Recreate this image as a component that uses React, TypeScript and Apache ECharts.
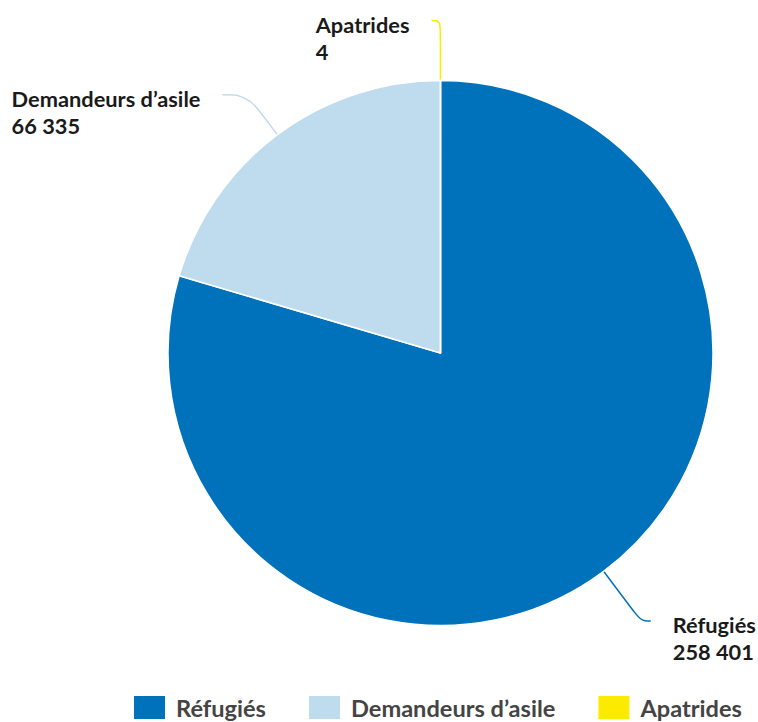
import React, { useEffect, useRef } from "react";
import * as echarts from "echarts";

const categories = ["Réfugiés", "Demandeurs d’asile", "Apatrides"];
const values = [258401, 66335, 4];
const colors = ["#0072BC", "#BFDBEE", "#FAEB00"];
const lineLengths = [62, 50, 60];
const lineLengths2 = [10, 25, 9];

const fmt = (v: number) => String(v).replace(/\B(?=(\d{3})+(?!\d))/g, " ");

export default function App() {
  const ref = useRef<HTMLDivElement>(null);
  useEffect(() => {
    if (!ref.current) return;
    const chart = echarts.init(ref.current, null, { renderer: "svg" });
    const font = "Lato, 'Noto Sans', sans-serif";
    const rs = { align: "left", lineHeight: 27, fontSize: 21.8, fontWeight: "bold", fontFamily: font, color: "#1a1a1a" };
    chart.setOption({
      animation: false,
      legend: {
        left: 132,
        top: 694,
        padding: 0,
        itemWidth: 33,
        itemHeight: 25,
        itemGap: 41,
        icon: "rect",
        selectedMode: false,
        textStyle: {
          fontFamily: font,
          fontSize: 23.6,
          fontWeight: "bold",
          color: "#444444",
          padding: [0, 0, 0, 5],
        },
        data: categories,
      },
      series: [
        {
          type: "pie",
          center: [440.5, 353],
          radius: 272.5,
          startAngle: 90,
          clockwise: true,
          avoidLabelOverlap: false,
          itemStyle: { borderColor: "#ffffff", borderWidth: 1.5 },
          emphasis: { disabled: true },
          label: {
            show: true,
            position: "outside",
            distanceToLabelLine: 22,
            padding: [35, 0, 0, 0],
            fontFamily: font,
            fontSize: 21.8,
            fontWeight: "bold",
            color: "#1a1a1a",
            formatter: (p: any) => `{n|${p.name}}\n{v|${fmt(p.value)}}`,
            rich: { n: rs, v: rs },
          },
          labelLine: { show: true, smooth: 0.4, lineStyle: { width: 1.5 } },
          data: categories.map((name, i) => ({
            name,
            value: values[i],
            itemStyle: { color: colors[i] },
            labelLine: { length: lineLengths[i], length2: lineLengths2[i], lineStyle: { color: colors[i] } },
          })),
        },
      ],
    });
    return () => chart.dispose();
  }, []);
  return <div ref={ref} style={{ position: "absolute", left: 0, top: 0, width: 758, height: 722 }} />;
}
